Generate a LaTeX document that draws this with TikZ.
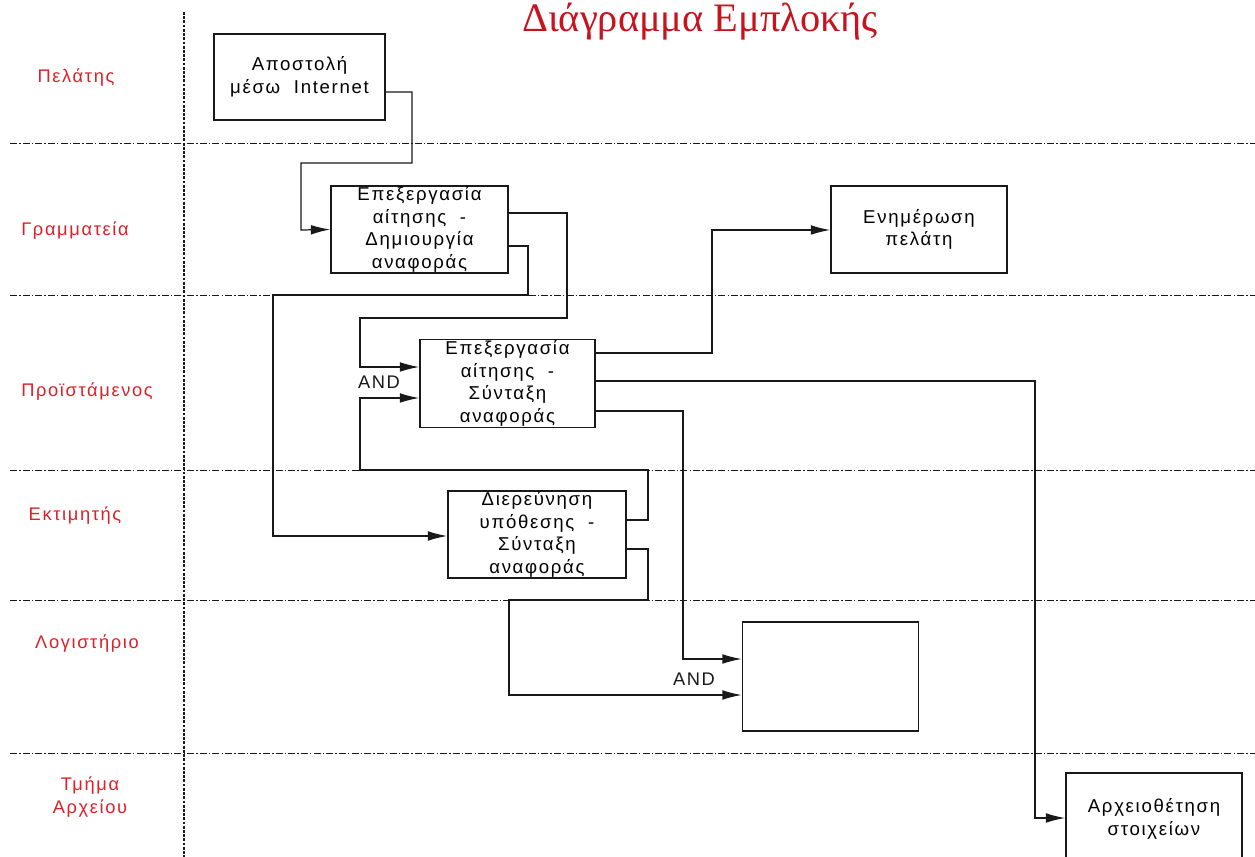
\documentclass[tikz,border=0pt]{standalone}
\usepackage{fontspec}
\setmainfont{Liberation Sans}
\newfontfamily\titlefont{Liberation Serif}
\newfontfamily\spacedfont[LetterSpace=9]{Liberation Sans}
\usepackage{xcolor}
\usetikzlibrary{arrows.meta}
\definecolor{lanered}{RGB}{222,32,40}
\definecolor{titlered}{RGB}{200,18,30}
\definecolor{mydark}{RGB}{25,25,25}
\tikzset{
  task/.style={rectangle, draw=mydark, line width=0.9pt, align=center,
    font=\spacedfont\fontsize{10.6}{12.8}\selectfont, inner sep=0pt},
  lanelabel/.style={font=\spacedfont\fontsize{10.4}{12.8}\selectfont,
    text=lanered, align=center},
  andlabel/.style={font=\spacedfont\fontsize{10.4}{12.8}\selectfont, text=mydark},
  flow/.style={-{Latex[length=11pt,width=5.5pt]}, line width=0.7pt, color=mydark},
  lanesep/.style={line width=0.55pt, color=mydark,
    dash pattern=on 4pt off 1.2pt on 0.8pt off 1.2pt},
  colsep/.style={line width=0.7pt, color=mydark, dash pattern=on 1.6pt off 0.8pt}
}

\begin{document}
\begin{tikzpicture}[x=0.02cm, y=-0.02cm]
  \useasboundingbox (0,0) rectangle (1255,857);
  \fill[white] (0,0) rectangle (1255,857);

  % ── title ──────────────────────────────────────────────────────────────
  \node[font=\titlefont\fontsize{23}{26}\selectfont, text=titlered] (title) at (700,22)
    {Διάγραμμα Εμπλοκής};

  % ── swimlane grid ──────────────────────────────────────────────────────
  \draw[colsep] (184,12) -- (184,857);
  \foreach \y in {143,295,470,600,753}
    \draw[lanesep] (10,\y) -- (1255,\y);

  % ── lane names ─────────────────────────────────────────────────────────
  \node[lanelabel] (client)  at (76,78)   {Πελάτης};
  \node[lanelabel] (secr)    at (75,231)  {Γραμματεία};
  \node[lanelabel] (head)    at (87,392)  {Προϊστάμενος};
  \node[lanelabel] (assess)  at (75,516)  {Εκτιμητής};
  \node[lanelabel] (account) at (87,644)  {Λογιστήριο};
  \node[lanelabel] (archive) at (90,797)  {Τμήμα\\Αρχείου};

  % ── tasks ──────────────────────────────────────────────────────────────
  \node[task, minimum width=3.42cm, minimum height=1.72cm] (send)   at (299.5,77)
    {Αποστολή\\μέσω \ Internet};
  \node[task, minimum width=3.54cm, minimum height=1.74cm] (proc)   at (419.5,229.5)
    {Επεξεργασία\\αίτησης \ -\\Δημιουργία\\αναφοράς};
  \node[task, minimum width=3.52cm, minimum height=1.74cm] (inform) at (919,229.5)
    {Ενημέρωση\\πελάτη};
  \node[task, minimum width=3.50cm, minimum height=1.76cm] (review) at (507.5,383.5)
    {Επεξεργασία\\αίτησης \ -\\Σύνταξη\\αναφοράς};
  \node[task, minimum width=3.56cm, minimum height=1.74cm] (invest) at (537,534.5)
    {Διερεύνηση\\υπόθεσης \ -\\Σύνταξη\\αναφοράς};
  \node[task, minimum width=3.52cm, minimum height=2.18cm] (pay)    at (830.5,676.5) {};
  \node[task, minimum width=3.52cm, minimum height=1.84cm] (file)   at (1154,819)
    {Αρχειοθέτηση\\στοιχείων};

  % ── flows ──────────────────────────────────────────────────────────────
  \draw[flow] (send.east |- 0,92) -| (412,163) -| (301,230) -- (proc.west);
  \draw[flow] (proc.east |- 0,213) -| (567,318) -| (360,367) -- (review.west |- 0,367);
  \draw[flow] (proc.east |- 0,246) -| (528,295) -| (273,536) -- (invest.west |- 0,536);
  \draw[flow] (review.east |- 0,353) -| (712,230) -- (inform.west |- 0,230);
  \draw[flow] (review.east |- 0,381) -| (1035,818) -- (file.west |- 0,818);
  \draw[flow] (review.east |- 0,411) -| (683,659) -- (pay.west |- 0,659);
  \draw[flow] (invest.east |- 0,520) -| (648,470) -| (360,398) -- (review.west |- 0,398);
  \draw[flow] (invest.east |- 0,549) -| (648,600) -| (509,695) -- (pay.west |- 0,695);

  % AND joins
  \node[andlabel] (and1) at (379,382) {AND};
  \node[andlabel] (and2) at (694,679) {AND};
\end{tikzpicture}
\end{document}
